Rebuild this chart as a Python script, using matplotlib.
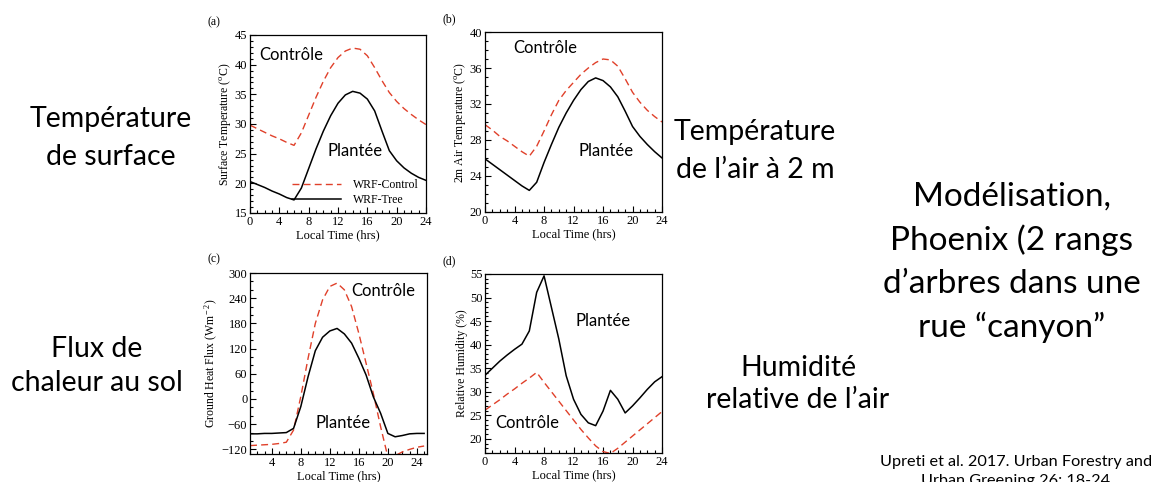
import matplotlib
matplotlib.use("Agg")
import matplotlib.pyplot as plt
from matplotlib.ticker import MultipleLocator

# hourly model output, WRF control vs. WRF with trees
hours = list(range(0, 25))
surf_control = [29.8, 29.2, 28.6, 28.0, 27.5, 26.9, 26.4, 28.5, 31.5, 34.5, 37.2, 39.5, 41.2,
                42.3, 42.8, 42.6, 41.5, 39.5, 37.3, 35.3, 33.8, 32.6, 31.6, 30.7, 29.9]
surf_tree = [20.3, 19.8, 19.3, 18.7, 18.2, 17.6, 17.2, 19.2, 22.5, 25.8, 28.8, 31.4, 33.5,
             34.9, 35.5, 35.2, 34.2, 32.2, 28.8, 25.5, 23.8, 22.6, 21.7, 21.0, 20.5]
air_control = [29.7, 29.1, 28.4, 27.9, 27.3, 26.7, 26.2, 27.3, 29.0, 30.8, 32.4, 33.5, 34.4,
               35.3, 36.0, 36.6, 37.0, 36.9, 36.2, 34.8, 33.3, 32.2, 31.3, 30.6, 30.0]
air_tree = [25.9, 25.3, 24.7, 24.1, 23.5, 22.9, 22.4, 23.3, 25.5, 27.5, 29.4, 31.0, 32.4,
            33.6, 34.5, 34.9, 34.6, 33.9, 32.8, 31.2, 29.5, 28.4, 27.5, 26.7, 26.0]
flux_hours = list(range(1, 26))
flux_control = [-111, -110, -109, -108, -106, -103, -74, 6, 97, 180, 236, 268, 276,
                260, 220, 156, 85, 13, -66, -138, -135, -126, -120, -115, -112]
flux_tree = [-83, -83, -82, -82, -81, -80, -70, -18, 53, 115, 147, 162, 168,
             155, 133, 97, 57, 5, -34, -82, -90, -87, -83, -82, -82]
rh_control = [26.1, 27.2, 28.3, 29.5, 30.6, 31.8, 32.9, 34.1, 32.0, 30.0, 28.0, 26.0, 24.0,
              22.0, 20.2, 18.5, 17.3, 16.9, 18.0, 19.3, 20.6, 21.9, 23.2, 24.5, 25.8]
rh_tree = [33.5, 35.0, 36.5, 37.8, 39.0, 40.1, 42.9, 51.1, 54.6, 47.9, 41.2, 33.4, 28.4,
           25.2, 23.4, 22.8, 25.9, 30.3, 28.4, 25.5, 27.0, 28.7, 30.5, 32.1, 33.2]

serif = "Liberation Serif"
sans = "Lato"
red = "#e0402a"

plt.rcParams["mathtext.fontset"] = "custom"
plt.rcParams["mathtext.rm"] = serif
plt.rcParams["mathtext.it"] = serif + ":italic"

fig = plt.figure(figsize=(11.56, 4.82), dpi=100)


def panel(rect, x, ctrl, tree, ylim, ymaj, ymin, xlim, xticks, ylabel, tag):
    ax = fig.add_axes(rect)
    ax.plot(x, ctrl, color=red, lw=1.0, ls=(0, (5, 3)), label="WRF-Control")
    ax.plot(x, tree, color="black", lw=1.1, label="WRF-Tree")
    ax.set_xlim(*xlim)
    ax.set_ylim(*ylim)
    ax.set_xticks(xticks)
    ax.xaxis.set_minor_locator(MultipleLocator(1))
    ax.yaxis.set_major_locator(MultipleLocator(ymaj))
    ax.yaxis.set_minor_locator(MultipleLocator(ymin))
    ax.tick_params(which="both", direction="in", top=False, right=False,
                   labelsize=9, pad=2)
    ax.tick_params(which="major", length=4, width=0.8)
    ax.tick_params(which="minor", length=2.5, width=0.8)
    for lab in ax.get_xticklabels() + ax.get_yticklabels():
        lab.set_fontfamily(serif)
    ax.set_xlabel("Local Time (hrs)", family=serif, fontsize=9, labelpad=1)
    ax.set_ylabel(ylabel, family=serif, fontsize=8.5, labelpad=1)
    for s in ax.spines.values():
        s.set_linewidth(0.9)
    ax.text(-0.24, 1.04, tag, transform=ax.transAxes, family=serif, fontsize=8.5,
            ha="left", va="bottom")
    return ax


ax_a = panel([0.2163, 0.5581, 0.1522, 0.3693], hours, surf_control, surf_tree,
             (15, 45), 5, 1, (0, 24), [0, 4, 8, 12, 16, 20, 24],
             "Surface Temperature ($^{\\rm o}$C)", "(a)")
ax_b = panel([0.4196, 0.5602, 0.1531, 0.3734], hours, air_control, air_tree,
             (20, 40), 4, 1, (0, 24), [0, 4, 8, 12, 16, 20, 24],
             "2m Air Temperature ($^{\\rm o}$C)", "(b)")
ax_c = panel([0.2163, 0.0581, 0.1531, 0.3755], flux_hours, flux_control, flux_tree,
             (-131, 300), 60, 20, (1, 25.4), [4, 8, 12, 16, 20, 24],
             "Ground Heat Flux (Wm$^{\\rm -2}$)", "(c)")
ax_d = panel([0.4196, 0.0602, 0.1531, 0.3714], hours, rh_control, rh_tree,
             (17, 55), 5, 1, (0, 24), [0, 4, 8, 12, 16, 20, 24],
             "Relative Humidity (%)", "(d)")

leg = ax_a.legend(loc="lower right", bbox_to_anchor=(1.0, 0.0), frameon=False,
                  handlelength=4.2, handletextpad=1.0, labelspacing=0.25,
                  borderaxespad=0.2, prop={"family": serif, "size": 8.5})

# labels inside the panels
kw = dict(family=sans, fontsize=12, va="center")
ax_a.text(0.05, 0.89, "Contrôle", transform=ax_a.transAxes, ha="left", **kw)
ax_a.text(0.44, 0.35, "Plantée", transform=ax_a.transAxes, ha="left", **kw)
ax_b.text(0.16, 0.91, "Contrôle", transform=ax_b.transAxes, ha="left", **kw)
ax_b.text(0.53, 0.34, "Plantée", transform=ax_b.transAxes, ha="left", **kw)
ax_c.text(0.57, 0.90, "Contrôle", transform=ax_c.transAxes, ha="left", **kw)
ax_c.text(0.37, 0.17, "Plantée", transform=ax_c.transAxes, ha="left", **kw)
ax_d.text(0.51, 0.74, "Plantée", transform=ax_d.transAxes, ha="left", **kw)
ax_d.text(0.06, 0.17, "Contrôle", transform=ax_d.transAxes, ha="left", **kw)

# side captions
big = dict(family=sans, fontsize=20.5, ha="center", va="center", linespacing=1.55)
fig.text(111 / 1156, 1 - 138 / 482, "Température\nde surface", **big)
fig.text(97 / 1156, 1 - 366 / 482, "Flux de\nchaleur au sol",
         family=sans, fontsize=20.5, ha="center", va="center", linespacing=1.4)
fig.text(755 / 1156, 1 - 151 / 482, "Température\nde l\u2019air à 2 m", **big)
fig.text(798 / 1156, 1 - 384 / 482, "Humidité\nrelative de l\u2019air",
         family=sans, fontsize=20.5, ha="center", va="center", linespacing=1.25)
fig.text(1012 / 1156, 1 - 262 / 482,
         "Modélisation,\nPhoenix (2 rangs\nd\u2019arbres dans une\nrue \u201ccanyon\u201d",
         family=sans, fontsize=24, ha="center", va="center", linespacing=1.52)
fig.text(1016 / 1156, 1 - 455 / 482,
         "Upreti et al. 2017. Urban Forestry and\nUrban Greening 26: 18-24",
         family=sans, fontsize=11.7, ha="center", va="top", linespacing=1.5)

fig.savefig("out.png", dpi=100)
